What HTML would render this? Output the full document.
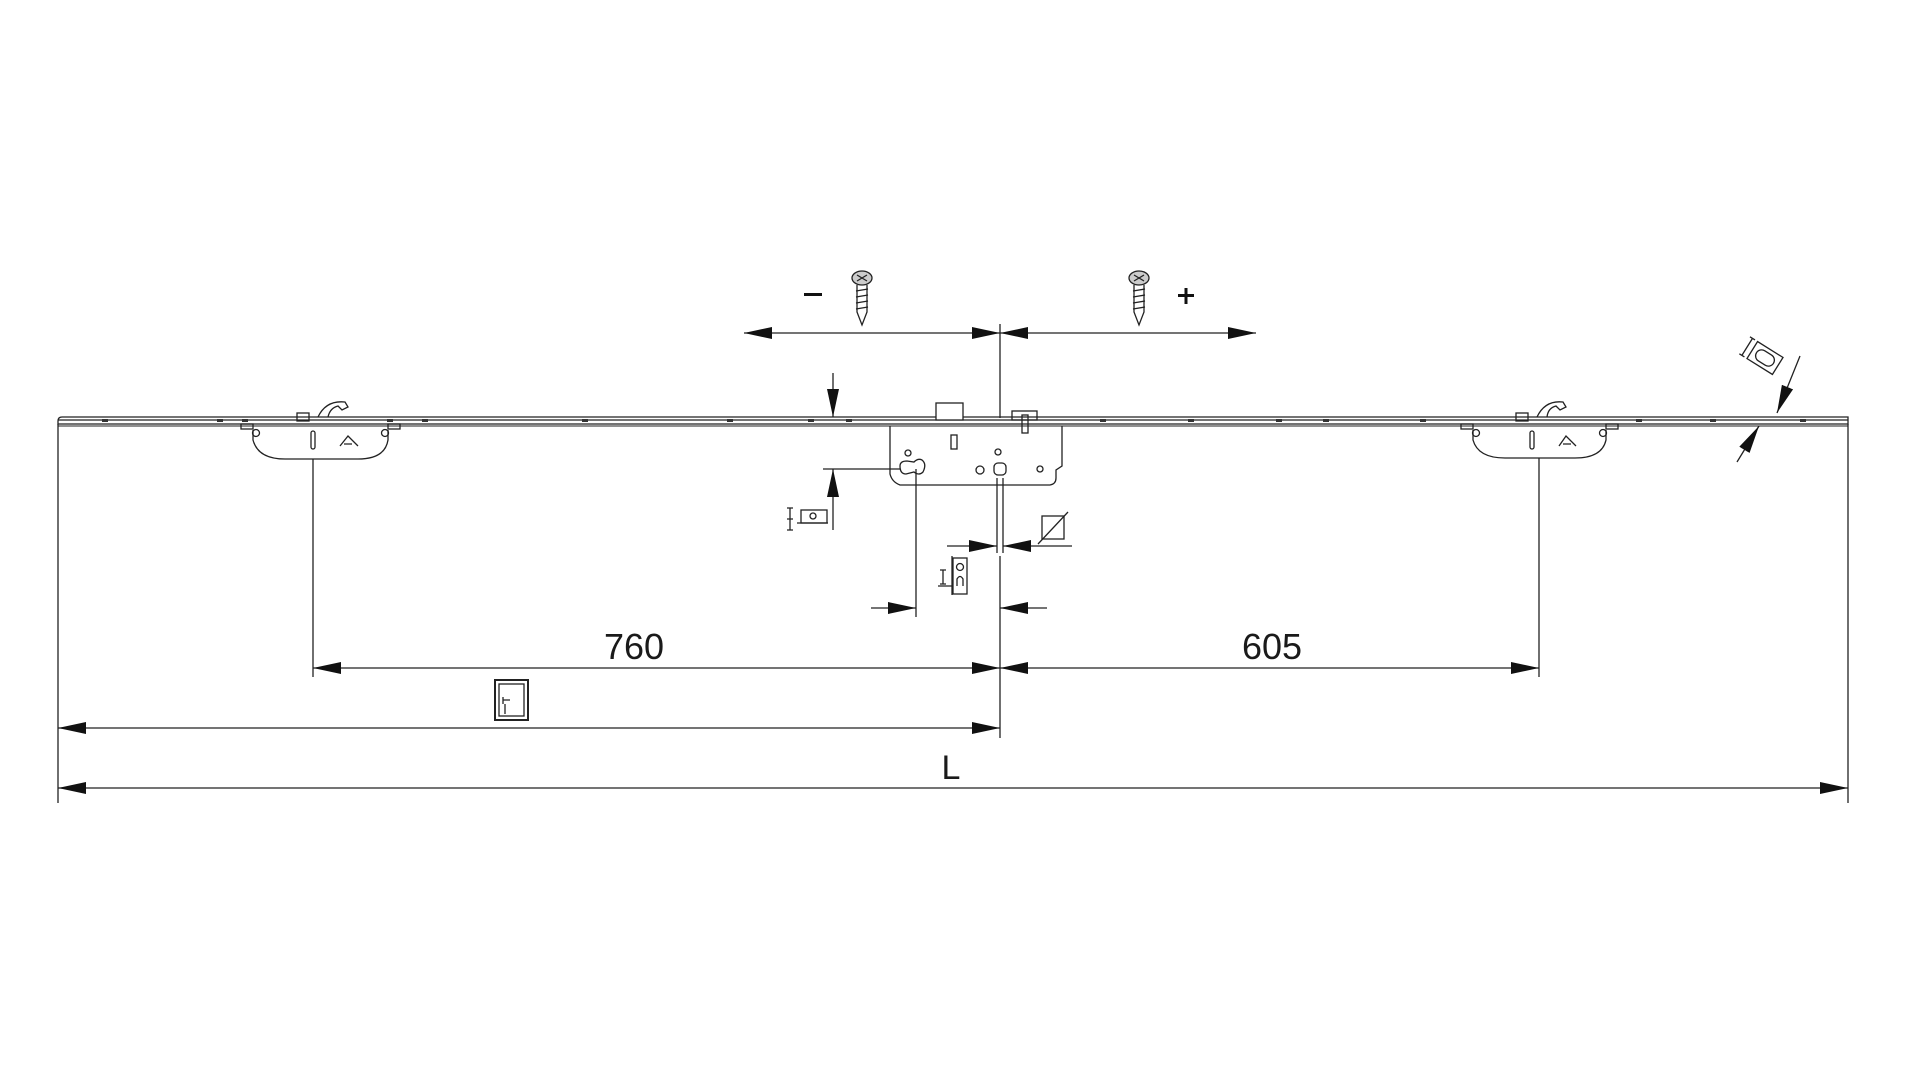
<!DOCTYPE html>
<html><head><meta charset="utf-8"><style>html,body{margin:0;padding:0;background:#fff;width:1920px;height:1080px;overflow:hidden}svg{display:block}text{font-family:"Liberation Sans",sans-serif;fill:#1a1a1a}</style></head>
<body>
<svg width="1920" height="1080" viewBox="0 0 1920 1080" xmlns="http://www.w3.org/2000/svg">
<defs>
<marker id="a" viewBox="0 0 28 12" refX="28" refY="6" markerWidth="28" markerHeight="12" markerUnits="userSpaceOnUse" orient="auto-start-reverse"><path d="M0,0 L28,6 L0,12 z" fill="#111"/></marker>
</defs>
<g stroke="#222" fill="none" stroke-width="1.3">
<path d="M58,424 L58,421 Q58,417 62,417 L1848,417 L1848,424 Z" fill="#fff"/>
<line x1="58" y1="420" x2="1848" y2="420"/>
<line x1="58" y1="426" x2="1848" y2="426" stroke-width="1"/>
<g fill="#333" stroke="none">
<rect x="102" y="419" width="6" height="3"/><rect x="217" y="419" width="6" height="3"/><rect x="242" y="419" width="6" height="3"/>
<rect x="387" y="419" width="6" height="3"/><rect x="422" y="419" width="6" height="3"/><rect x="582" y="419" width="6" height="3"/>
<rect x="727" y="419" width="6" height="3"/><rect x="808" y="419" width="6" height="3"/><rect x="846" y="419" width="6" height="3"/>
<rect x="1100" y="419" width="6" height="3"/><rect x="1188" y="419" width="6" height="3"/><rect x="1276" y="419" width="6" height="3"/>
<rect x="1323" y="419" width="6" height="3"/><rect x="1420" y="419" width="6" height="3"/><rect x="1636" y="419" width="6" height="3"/>
<rect x="1710" y="419" width="6" height="3"/><rect x="1800" y="419" width="6" height="3"/>
</g>
<line x1="58" y1="424" x2="58" y2="803"/>
<line x1="1848" y1="424" x2="1848" y2="803"/>
<path d="M253,430 L253,440 Q258,459 285,459 L358,459 Q385,459 388,440 L388,430"/>
<rect x="241" y="424" width="12" height="5"/><rect x="388" y="424" width="12" height="5"/>
<circle cx="256" cy="433" r="3.5"/><circle cx="385" cy="433" r="3.5"/>
<rect x="311" y="431" width="4" height="18" rx="2"/>
<path d="M340,446 L348,436 L358,446 M344,444 L352,444"/>
<rect x="297" y="413" width="12" height="8"/>
<path d="M318,417 Q326,400 345,402 L348,407 L342,410 L338,406 Q330,408 328,417"/>
<line x1="313" y1="459" x2="313" y2="677"/>
<path d="M1473,430 L1473,440 Q1478,458 1505,458 L1575,458 Q1602,458 1606,440 L1606,430"/>
<rect x="1461" y="424" width="12" height="5"/><rect x="1606" y="424" width="12" height="5"/>
<circle cx="1476" cy="433" r="3.5"/><circle cx="1603" cy="433" r="3.5"/>
<rect x="1530" y="431" width="4" height="18" rx="2"/>
<path d="M1559,446 L1566,436 L1576,446 M1563,444 L1571,444"/>
<rect x="1516" y="413" width="12" height="8"/>
<path d="M1537,417 Q1545,400 1563,402 L1566,407 L1560,410 L1556,406 Q1548,408 1547,417"/>
<line x1="1539" y1="458" x2="1539" y2="677"/>
<path d="M890,426 L890,474 Q892,482 900,485 L1050,485 Q1056,484 1056,478 L1056,470 L1062,466 L1062,426"/>
<rect x="936" y="403" width="27" height="17" fill="#fff"/>
<rect x="1012" y="411" width="25" height="9"/><rect x="1022" y="415" width="6" height="18"/>
<rect x="951" y="435" width="6" height="14"/>
<circle cx="908" cy="453" r="3"/><circle cx="998" cy="452" r="3"/><circle cx="980" cy="470" r="4"/><circle cx="1040" cy="469" r="3"/>
<path d="M900,466 Q900,461 907,461 L914,462 Q918,458 922,460 Q927,464 923,472 Q919,476 914,472 L906,474 Q900,474 900,466 Z"/>
<rect x="994" y="463" width="12" height="12" rx="4"/>
<line x1="823" y1="469" x2="900" y2="469"/>
<line x1="916" y1="469" x2="916" y2="617"/>
<line x1="997" y1="478" x2="997" y2="553"/><line x1="1003" y1="478" x2="1003" y2="553"/>
<line x1="1000" y1="324" x2="1000" y2="418"/>
<line x1="1000" y1="556" x2="1000" y2="738"/>
</g>
<g stroke="#222" stroke-width="1.3" fill="none">
<line x1="744" y1="333" x2="1000" y2="333" marker-start="url(#a)" marker-end="url(#a)"/>
<line x1="1000" y1="333" x2="1256" y2="333" marker-start="url(#a)" marker-end="url(#a)"/>
<line x1="833" y1="373" x2="833" y2="417" marker-end="url(#a)"/>
<line x1="833" y1="530" x2="833" y2="469" marker-end="url(#a)"/>
<line x1="947" y1="546" x2="997" y2="546" marker-end="url(#a)"/>
<line x1="1072" y1="546" x2="1003" y2="546" marker-end="url(#a)"/>
<line x1="871" y1="608" x2="916" y2="608" marker-end="url(#a)"/>
<line x1="1047" y1="608" x2="1000" y2="608" marker-end="url(#a)"/>
<line x1="313" y1="668" x2="1000" y2="668" marker-start="url(#a)" marker-end="url(#a)"/>
<line x1="1000" y1="668" x2="1539" y2="668" marker-start="url(#a)" marker-end="url(#a)"/>
<line x1="58" y1="728" x2="1000" y2="728" marker-start="url(#a)" marker-end="url(#a)"/>
<line x1="58" y1="788" x2="1848" y2="788" marker-start="url(#a)" marker-end="url(#a)"/>
<line x1="1800" y1="356" x2="1777" y2="413" marker-end="url(#a)"/>
<line x1="1737" y1="462" x2="1759" y2="426" marker-end="url(#a)"/>
</g>
<g stroke="#222" stroke-width="1.3" fill="none">
<g transform="translate(862,278)"><ellipse cx="0" cy="0" rx="10" ry="7" fill="#ccc"/><path d="M-5,-3 L5,3 M5,-3 L-5,3"/><path d="M-5,7 L-5,34 L0,47 L5,34 L5,7"/><path d="M-6,13 L6,11 M-6,19 L6,17 M-6,25 L6,23 M-6,31 L6,29"/></g>
<g transform="translate(1139,278)"><ellipse cx="0" cy="0" rx="10" ry="7" fill="#ccc"/><path d="M-5,-3 L5,3 M5,-3 L-5,3"/><path d="M-5,7 L-5,34 L0,47 L5,34 L5,7"/><path d="M-6,13 L6,11 M-6,19 L6,17 M-6,25 L6,23 M-6,31 L6,29"/></g>
<rect x="801" y="510" width="26" height="13"/><circle cx="813" cy="516" r="3"/><line x1="797" y1="523" x2="828" y2="523"/>
<path d="M790,508 L790,530 M787,508 L793,508 M787,530 L793,530 M787,519 L793,519"/>
<rect x="1042" y="516" width="22" height="23"/><line x1="1038" y1="544" x2="1068" y2="512"/>
<rect x="953" y="558" width="14" height="36"/><line x1="952" y1="556" x2="952" y2="595"/><circle cx="960" cy="567" r="3.5"/><path d="M957,586 L957,579 Q960,574 963,579 L963,586"/>
<path d="M943,570 L943,584 M940,570 L946,570 M940,584 L946,584 M938,586 L952,586"/>
<rect x="495" y="680" width="33" height="40" stroke-width="2"/><rect x="499" y="684" width="25" height="32"/><path d="M503,700 L510,700 M503,697 L503,704 M505,704 L505,714"/>
<g transform="translate(1765,358) rotate(32)"><rect x="-15" y="-10" width="30" height="20"/><rect x="-10" y="-6" width="20" height="12" rx="6"/><path d="M-21,-10 L-21,10 M-24,-10 L-18,-10 M-24,10 L-18,10"/></g>
</g>
<g fill="#111">
<rect x="804" y="293" width="18" height="3"/>
<rect x="1178" y="294" width="16" height="3"/><rect x="1184.5" y="288" width="3" height="16"/>
</g>
<text x="634" y="659" font-size="36" text-anchor="middle">760</text>
<text x="1272" y="659" font-size="36" text-anchor="middle">605</text>
<text x="951" y="779" font-size="34" text-anchor="middle">L</text>
</svg>
</body></html>
